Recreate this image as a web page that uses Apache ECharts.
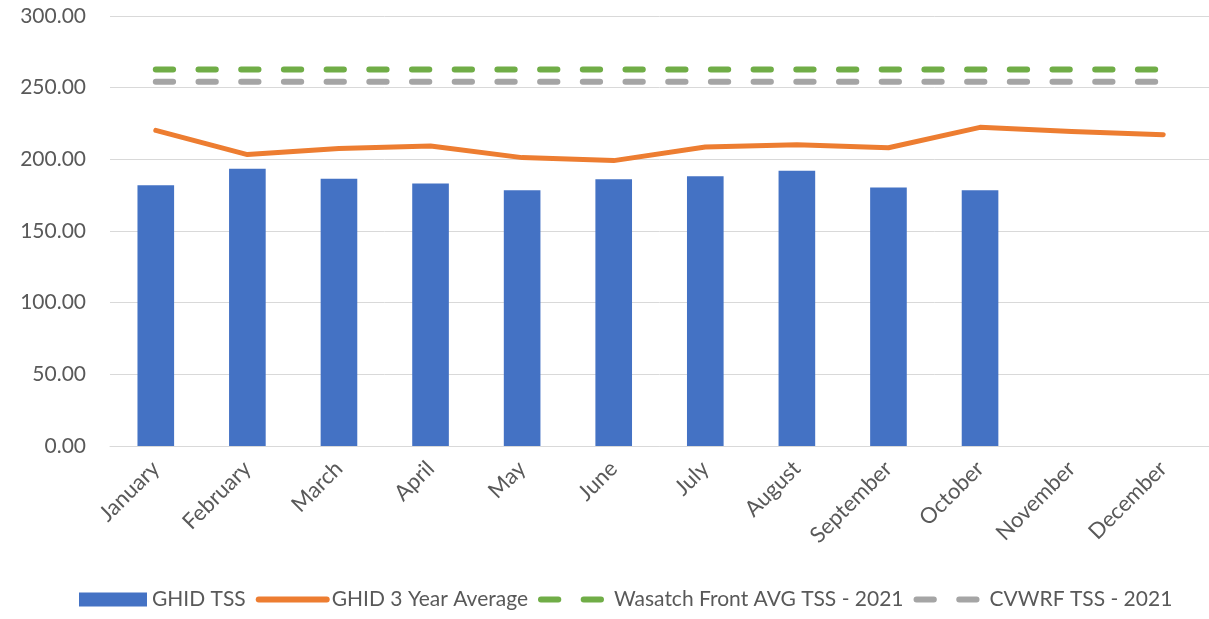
<!DOCTYPE html>
<html>
<head>
<meta charset="utf-8">
<script src="https://cdn.jsdelivr.net/npm/echarts@6/dist/echarts.min.js"></script>
<style>
  html, body { margin: 0; padding: 0; background: #fff; }
  #graph1 { width: 1209px; height: 619px; }
</style>
</head>
<body>
<div id="graph1"></div>
<script>
// months along the x axis
var months = ['January', 'February', 'March', 'April', 'May', 'June',
    'July', 'August', 'September', 'October', 'November', 'December'];
// GHID TSS (bars) - no data yet for Nov/Dec
var ghidTss = [181.9, 193.5, 186.5, 183.1, 178.4, 186.1, 188.2, 192.1, 180.3, 178.4, null, null];
// GHID 3 year average (orange line)
var ghid3Year = [220.2, 203.3, 207.5, 209.3, 201.2, 199.1, 208.6, 210.2, 208.1, 222.3, 219.5, 217.2];
// reference levels
var wasatchAvg = [262.7, 262.7, 262.7, 262.7, 262.7, 262.7, 262.7, 262.7, 262.7, 262.7, 262.7, 262.7];
var cvwrfTss = [254.1, 254.1, 254.1, 254.1, 254.1, 254.1, 254.1, 254.1, 254.1, 254.1, 254.1, 254.1];
var seriesNames = ['GHID TSS', 'GHID 3 Year Average', 'Wasatch Front AVG TSS - 2021', 'CVWRF TSS - 2021'];

var myChart = echarts.init(document.getElementById('graph1'));
var font = 'Lato, "Open Sans", sans-serif';
var hideDot = { opacity: 0 };  // legend shows only the line, no dot
var dash = [17.3, 25.4];

var option = {
    animation: false,
    textStyle: { fontFamily: font },
    legend: {
        data: [
            { name: seriesNames[0], icon: 'rect' },
            { name: seriesNames[1], itemStyle: hideDot, lineStyle: { width: 6 } },
            { name: seriesNames[2], itemStyle: hideDot, lineStyle: { width: 6 } },
            { name: seriesNames[3], itemStyle: hideDot, lineStyle: { width: 6 } }
        ],
        top: 584,
        left: 74,
        itemWidth: 68,
        itemHeight: 14,
        itemGap: 10,
        textStyle: { color: '#595959', fontSize: 21, fontFamily: font }
    },
    grid: {
        left: 110,
        right: 0,
        top: 16,
        bottom: 173
    },
    xAxis: {
        type: 'category',
        data: months,
        axisTick: { show: false },
        axisLine: { lineStyle: { color: '#d9d9d9', width: 1 } },
        axisLabel: {
            interval: 0,
            rotate: 45,
            margin: 19,
            color: '#595959',
            fontSize: 22,
            fontFamily: font
        }
    },
    yAxis: {
        type: 'value',
        min: 0,
        max: 300,
        interval: 50,
        axisLine: { show: false },
        axisTick: { show: false },
        splitLine: { lineStyle: { color: '#d9d9d9', width: 1 } },
        axisLabel: {
            margin: 24,
            color: '#595959',
            fontSize: 21,
            fontFamily: font,
            formatter: function (v) { return v.toFixed(2); }
        }
    },
    series: [
        {
            name: seriesNames[0],
            type: 'bar',
            barWidth: '40%',
            itemStyle: { color: '#4472c4' },
            data: ghidTss
        },
        {
            name: seriesNames[1],
            type: 'line',
            symbol: 'none',
            lineStyle: { color: '#ed7d31', width: 5, cap: 'round', join: 'round' },
            itemStyle: { color: '#ed7d31' },
            data: ghid3Year
        },
        {
            name: seriesNames[2],
            type: 'line',
            symbol: 'none',
            lineStyle: { color: '#70ad47', width: 6, type: dash, cap: 'round' },
            itemStyle: { color: '#70ad47' },
            data: wasatchAvg
        },
        {
            name: seriesNames[3],
            type: 'line',
            symbol: 'none',
            lineStyle: { color: '#a5a5a5', width: 6, type: dash, cap: 'round' },
            itemStyle: { color: '#a5a5a5' },
            data: cvwrfTss
        }
    ]
};

if (option && typeof option === "object") {
    myChart.setOption(option, true);
}
</script>
</body>
</html>
